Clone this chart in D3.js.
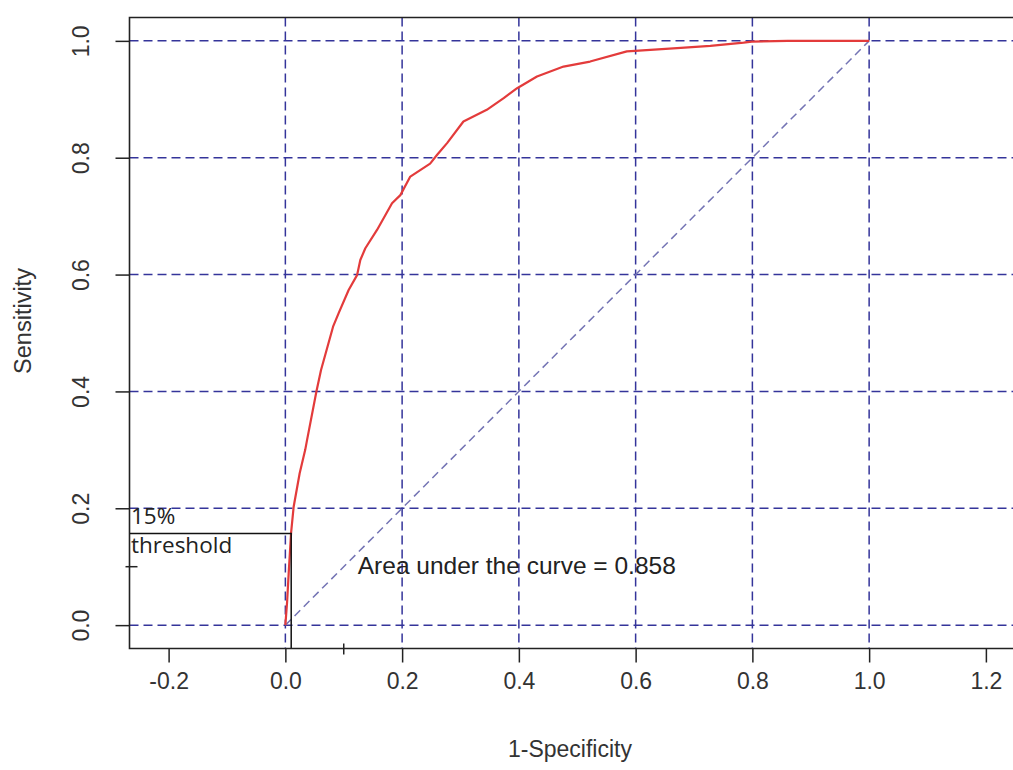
<!DOCTYPE html>
<html>
<head>
<meta charset="utf-8">
<script src="https://cdn.jsdelivr.net/npm/d3@7"></script>
<style>
  html, body { margin: 0; padding: 0; background: #ffffff; }
  svg { display: block; }
</style>
</head>
<body>
<svg id="chart" width="1013" height="770"></svg>
<script>
// ---- data ----
const fpr = [0, 0.003, 0.0057, 0.0098, 0.0142, 0.0245, 0.034, 0.0372, 0.0531, 0.0611, 0.0817, 0.0913, 0.1084, 0.1228, 0.1284, 0.137, 0.157, 0.1827, 0.197, 0.214, 0.248, 0.26, 0.277, 0.305, 0.345, 0.374, 0.397, 0.431, 0.4765, 0.522, 0.585, 0.599, 0.671, 0.728, 0.785, 0.799, 0.86, 1.0];
const tpr = [0, 0.04, 0.089, 0.158, 0.2026, 0.26, 0.30, 0.317, 0.3995, 0.4366, 0.5108, 0.534, 0.5736, 0.599, 0.625, 0.645, 0.6764, 0.7221, 0.736, 0.7677, 0.79, 0.805, 0.825, 0.862, 0.882, 0.902, 0.919, 0.939, 0.956, 0.9646, 0.982, 0.983, 0.9875, 0.9914, 0.997, 0.9988, 1.0, 1.0];
const xTicks = [-0.2, 0.0, 0.2, 0.4, 0.6, 0.8, 1.0, 1.2];
const yTicks = [0.0, 0.2, 0.4, 0.6, 0.8, 1.0];
const gridX = [0.0, 0.2, 0.4, 0.6, 0.8, 1.0];
const gridY = [0.0, 0.2, 0.4, 0.6, 0.8, 1.0];
const extraTick = [0.1];
const threshold = {x: 0.01, y: 0.157};
const aucText = "Area under the curve = 0.858";
const aucPos = {x: 0.124, y: 0.088};
const xTitle = "1-Specificity";
const yTitle = "Sensitivity";

// ---- scales ----
const xDomain = [-0.267, 1.267];
const yDomain = [-0.04, 1.04];
const x = d3.scaleLinear().domain(xDomain).range([129.5, 1025]);
const y = d3.scaleLinear().domain(yDomain).range([648.5, 17.5]);

const svg = d3.select("#chart");
const font = "'Liberation Sans', Arial, sans-serif";
const gridColor = "#34349a";
const dash = "9,5";
const fmt = d => d3.format(".1f")(d).replace("\u2212", "-");

// grid lines
svg.append("g").selectAll("line").data(gridY).join("line")
  .attr("x1", x(xDomain[0])).attr("x2", x(xDomain[1]))
  .attr("y1", d => y(d)).attr("y2", d => y(d))
  .attr("stroke", gridColor).attr("stroke-width", 1.5).attr("stroke-dasharray", dash);
svg.append("g").selectAll("line").data(gridX).join("line")
  .attr("x1", d => x(d)).attr("x2", d => x(d))
  .attr("y1", y(yDomain[1])).attr("y2", y(yDomain[0]))
  .attr("stroke", gridColor).attr("stroke-width", 1.5).attr("stroke-dasharray", dash);

// diagonal reference line
svg.append("line")
  .attr("x1", x(0)).attr("y1", y(0)).attr("x2", x(1)).attr("y2", y(1))
  .attr("stroke", "#7474b4").attr("stroke-width", 1.5).attr("stroke-dasharray", "8,5");

// ROC curve
const line = d3.line().x(d => x(d[0])).y(d => y(d[1]));
svg.append("path")
  .datum(fpr.map((v, i) => [v, tpr[i]]))
  .attr("d", line)
  .attr("fill", "none").attr("stroke", "#e33b3b").attr("stroke-width", 2.2)
  .attr("stroke-linejoin", "round");

// threshold lines
svg.append("path")
  .attr("d", `M${x(xDomain[0])},${y(threshold.y)}H${x(threshold.x)}V${y(yDomain[0])}`)
  .attr("fill", "none").attr("stroke", "#111").attr("stroke-width", 1.5);

// box (left, top, bottom)
svg.append("path")
  .attr("d", `M${x(xDomain[1])},${y(yDomain[1])}H${x(xDomain[0])}V${y(yDomain[0])}H${x(xDomain[1])}`)
  .attr("fill", "none").attr("stroke", "#222").attr("stroke-width", 1.6);

// axes
const xAxis = d3.axisBottom(x).tickValues(xTicks).tickSize(14).tickFormat(fmt);
const gx = svg.append("g").attr("transform", `translate(0,${y(yDomain[0])})`).call(xAxis);
gx.select(".domain").remove();
gx.selectAll("line").attr("stroke", "#222").attr("stroke-width", 1.5);
gx.selectAll("text").attr("font-family", font).attr("font-size", 23).attr("fill", "#333")
  .attr("dy", "0.71em").attr("y", 24);

const yAxis = d3.axisLeft(y).tickValues(yTicks).tickSize(14).tickFormat(fmt);
const gy = svg.append("g").attr("transform", `translate(${x(xDomain[0])},0)`).call(yAxis);
gy.select(".domain").remove();
gy.selectAll("line").attr("stroke", "#222").attr("stroke-width", 1.5);
gy.selectAll("text")
  .attr("font-family", font).attr("font-size", 23).attr("fill", "#333")
  .attr("x", null).attr("dy", null)
  .attr("text-anchor", "middle")
  .attr("transform", "translate(-41,0) rotate(-90)");

// extra small ticks at 0.1
svg.append("g").selectAll("line").data(extraTick).join("line")
  .attr("x1", d => x(d)).attr("x2", d => x(d))
  .attr("y1", y(yDomain[0]) - 5).attr("y2", y(yDomain[0]) + 6)
  .attr("stroke", "#222").attr("stroke-width", 1.5);
svg.append("g").selectAll("line").data(extraTick).join("line")
  .attr("y1", d => y(d)).attr("y2", d => y(d))
  .attr("x1", x(xDomain[0]) - 4).attr("x2", x(xDomain[0]) + 8)
  .attr("stroke", "#222").attr("stroke-width", 1.5);

// titles
svg.append("text").attr("x", 570).attr("y", 757).attr("text-anchor", "middle")
  .attr("font-family", font).attr("font-size", 23).attr("fill", "#333").text(xTitle);
svg.append("text").attr("transform", "translate(31,321) rotate(-90)").attr("text-anchor", "middle")
  .attr("font-family", font).attr("font-size", 23.5).attr("fill", "#333").text(yTitle);

// annotations
svg.append("text").attr("x", x(aucPos.x)).attr("y", y(aucPos.y))
  .attr("font-family", font).attr("font-size", 24.5).attr("fill", "#222").text(aucText);
const annFont = "'Open Sans', 'Noto Sans', sans-serif";
svg.append("text").attr("x", 131).attr("y", 524)
  .attr("font-family", annFont).attr("font-size", 22.5).attr("fill", "#222").text("15%");
svg.append("text").attr("x", 131).attr("y", 553)
  .attr("font-family", annFont).attr("font-size", 22.5).attr("fill", "#222").text("threshold");
</script>
</body>
</html>
